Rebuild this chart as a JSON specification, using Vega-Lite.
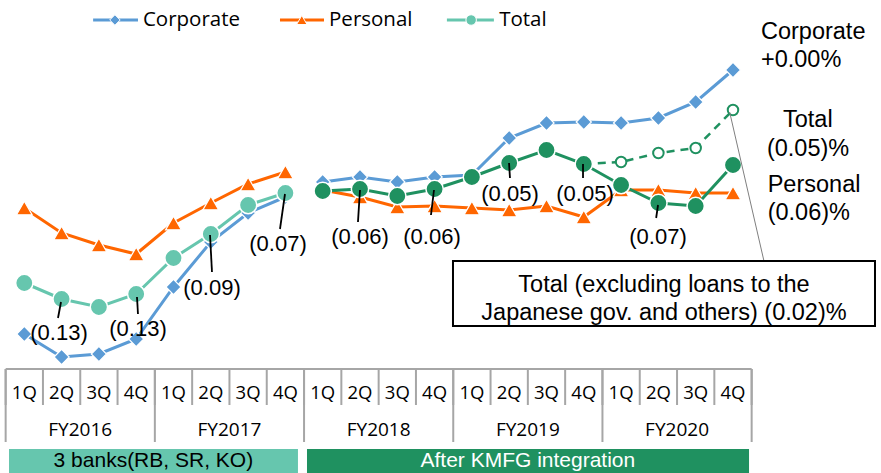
{
  "$schema": "https://vega.github.io/schema/vega-lite/v6.json",
  "width": 881,
  "height": 473,
  "autosize": {"type": "fit", "contains": "padding"},
  "padding": 0,
  "background": "white",
  "config": {"view": {"stroke": null}},
  "datasets": {
    "lines": [
      {"s": "Corporate", "seg": "A", "i": 0, "v": 0.86},
      {"s": "Corporate", "seg": "A", "i": 1, "v": 0.63},
      {"s": "Corporate", "seg": "A", "i": 2, "v": 0.66},
      {"s": "Corporate", "seg": "A", "i": 3, "v": 0.81},
      {"s": "Corporate", "seg": "A", "i": 4, "v": 1.33},
      {"s": "Corporate", "seg": "A", "i": 5, "v": 1.78},
      {"s": "Corporate", "seg": "A", "i": 6, "v": 2.07},
      {"s": "Corporate", "seg": "A", "i": 7, "v": 2.23},
      {"s": "Corporate", "seg": "B", "i": 8, "v": 2.38},
      {"s": "Corporate", "seg": "B", "i": 9, "v": 2.43},
      {"s": "Corporate", "seg": "B", "i": 10, "v": 2.38},
      {"s": "Corporate", "seg": "B", "i": 11, "v": 2.43},
      {"s": "Corporate", "seg": "B", "i": 12, "v": 2.45},
      {"s": "Corporate", "seg": "B", "i": 13, "v": 2.82},
      {"s": "Corporate", "seg": "B", "i": 14, "v": 2.97},
      {"s": "Corporate", "seg": "B", "i": 15, "v": 2.98},
      {"s": "Corporate", "seg": "B", "i": 16, "v": 2.97},
      {"s": "Corporate", "seg": "B", "i": 17, "v": 3.02},
      {"s": "Corporate", "seg": "B", "i": 18, "v": 3.18},
      {"s": "Corporate", "seg": "B", "i": 19, "v": 3.5},
      {"s": "Personal", "seg": "A", "i": 0, "v": 2.12},
      {"s": "Personal", "seg": "A", "i": 1, "v": 1.87},
      {"s": "Personal", "seg": "A", "i": 2, "v": 1.75},
      {"s": "Personal", "seg": "A", "i": 3, "v": 1.66},
      {"s": "Personal", "seg": "A", "i": 4, "v": 1.97},
      {"s": "Personal", "seg": "A", "i": 5, "v": 2.17},
      {"s": "Personal", "seg": "A", "i": 6, "v": 2.36},
      {"s": "Personal", "seg": "A", "i": 7, "v": 2.48},
      {"s": "Personal", "seg": "B", "i": 8, "v": 2.3},
      {"s": "Personal", "seg": "B", "i": 9, "v": 2.23},
      {"s": "Personal", "seg": "B", "i": 10, "v": 2.13},
      {"s": "Personal", "seg": "B", "i": 11, "v": 2.14},
      {"s": "Personal", "seg": "B", "i": 12, "v": 2.12},
      {"s": "Personal", "seg": "B", "i": 13, "v": 2.1},
      {"s": "Personal", "seg": "B", "i": 14, "v": 2.14},
      {"s": "Personal", "seg": "B", "i": 15, "v": 2.03},
      {"s": "Personal", "seg": "B", "i": 16, "v": 2.3},
      {"s": "Personal", "seg": "B", "i": 17, "v": 2.3},
      {"s": "Personal", "seg": "B", "i": 18, "v": 2.27},
      {"s": "Personal", "seg": "B", "i": 19, "v": 2.27},
      {"s": "Total", "seg": "A", "i": 0, "v": 1.37},
      {"s": "Total", "seg": "A", "i": 1, "v": 1.21},
      {"s": "Total", "seg": "A", "i": 2, "v": 1.13},
      {"s": "Total", "seg": "A", "i": 3, "v": 1.26},
      {"s": "Total", "seg": "A", "i": 4, "v": 1.62},
      {"s": "Total", "seg": "A", "i": 5, "v": 1.86},
      {"s": "Total", "seg": "A", "i": 6, "v": 2.15},
      {"s": "Total", "seg": "A", "i": 7, "v": 2.27},
      {"s": "Total", "seg": "B", "i": 8, "v": 2.29},
      {"s": "Total", "seg": "B", "i": 9, "v": 2.31},
      {"s": "Total", "seg": "B", "i": 10, "v": 2.24},
      {"s": "Total", "seg": "B", "i": 11, "v": 2.31},
      {"s": "Total", "seg": "B", "i": 12, "v": 2.43},
      {"s": "Total", "seg": "B", "i": 13, "v": 2.57},
      {"s": "Total", "seg": "B", "i": 14, "v": 2.7},
      {"s": "Total", "seg": "B", "i": 15, "v": 2.56},
      {"s": "Total", "seg": "B", "i": 16, "v": 2.35},
      {"s": "Total", "seg": "B", "i": 17, "v": 2.17},
      {"s": "Total", "seg": "B", "i": 18, "v": 2.14},
      {"s": "Total", "seg": "B", "i": 19, "v": 2.55}
    ],
    "excl": [
      {"i": 15, "v": 2.56},
      {"i": 16, "v": 2.58},
      {"i": 17, "v": 2.67},
      {"i": 18, "v": 2.72},
      {"i": 19, "v": 3.1}
    ],
    "leaders": [
      {"i": 0.984, "v": 1.18, "i2": 0.903, "v2": 1.02},
      {"i": 3.021, "v": 1.23, "i2": 3.048, "v2": 1.06},
      {"i": 4.979, "v": 1.85, "i2": 5.032, "v2": 1.48},
      {"i": 6.989, "v": 2.26, "i2": 6.855, "v2": 1.91},
      {"i": 9.0, "v": 2.3, "i2": 8.946, "v2": 1.98},
      {"i": 10.984, "v": 2.3, "i2": 10.903, "v2": 2.05},
      {"i": 12.995, "v": 2.57, "i2": 13.021, "v2": 2.42},
      {"i": 14.979, "v": 2.56, "i2": 14.979, "v2": 2.42},
      {"i": 16.99, "v": 2.15, "i2": 16.94, "v2": 2.02}
    ],
    "notes": [
      {"label": "(0.13)", "i": 0.93, "v": 0.87},
      {"label": "(0.13)", "i": 3.048, "v": 0.91},
      {"label": "(0.09)", "i": 5.032, "v": 1.32},
      {"label": "(0.07)", "i": 6.802, "v": 1.76},
      {"label": "(0.06)", "i": 9.0, "v": 1.83},
      {"label": "(0.06)", "i": 10.93, "v": 1.83},
      {"label": "(0.05)", "i": 13.021, "v": 2.26},
      {"label": "(0.05)", "i": 15.032, "v": 2.26},
      {"label": "(0.07)", "i": 16.99, "v": 1.83}
    ],
    "rlabels": [
      {"label": "Corporate", "i": 19.75, "v": 3.88},
      {"label": "+0.00%", "i": 19.75, "v": 3.6},
      {"label": "Total", "i": 20.34, "v": 3.0},
      {"label": "(0.05)%", "i": 19.91, "v": 2.71},
      {"label": "Personal", "i": 19.93, "v": 2.35},
      {"label": "(0.06)%", "i": 19.93, "v": 2.07}
    ],
    "boxLeader": [{"i": 18.91, "v": 3.08, "i2": 19.83, "v2": 1.59}],
    "box": [{"i": 11.493, "i2": 22.807, "v": 1.59, "v2": 0.94}],
    "boxText": [
      {"label": "Total (excluding loans to the", "i": 17.15, "v": 1.35},
      {"label": "Japanese gov. and others) (0.02)%", "i": 17.15, "v": 1.07}
    ],
    "tableTop": [{"i": -0.5, "i2": 19.5, "v": 0.51}],
    "qsep": [
      {"i": -0.5, "v": 0.51, "v2": 0.15}, {"i": 0.5, "v": 0.51, "v2": 0.15}, {"i": 1.5, "v": 0.51, "v2": 0.15},
      {"i": 2.5, "v": 0.51, "v2": 0.15}, {"i": 3.5, "v": 0.51, "v2": 0.15}, {"i": 4.5, "v": 0.51, "v2": 0.15},
      {"i": 5.5, "v": 0.51, "v2": 0.15}, {"i": 6.5, "v": 0.51, "v2": 0.15}, {"i": 7.5, "v": 0.51, "v2": 0.15},
      {"i": 8.5, "v": 0.51, "v2": 0.15}, {"i": 9.5, "v": 0.51, "v2": 0.15}, {"i": 10.5, "v": 0.51, "v2": 0.15},
      {"i": 11.5, "v": 0.51, "v2": 0.15}, {"i": 12.5, "v": 0.51, "v2": 0.15}, {"i": 13.5, "v": 0.51, "v2": 0.15},
      {"i": 14.5, "v": 0.51, "v2": 0.15}, {"i": 15.5, "v": 0.51, "v2": 0.15}, {"i": 16.5, "v": 0.51, "v2": 0.15},
      {"i": 17.5, "v": 0.51, "v2": 0.15}, {"i": 18.5, "v": 0.51, "v2": 0.15}, {"i": 19.5, "v": 0.51, "v2": 0.15}
    ],
    "fysep": [
      {"i": -0.5, "v": 0.51, "v2": -0.22}, {"i": 3.5, "v": 0.51, "v2": -0.22}, {"i": 7.5, "v": 0.51, "v2": -0.22},
      {"i": 11.5, "v": 0.51, "v2": -0.22}, {"i": 15.5, "v": 0.51, "v2": -0.22}, {"i": 19.5, "v": 0.51, "v2": -0.22}
    ],
    "quarters": [
      {"q": "1Q", "i": 0, "v": 0.27}, {"q": "2Q", "i": 1, "v": 0.27}, {"q": "3Q", "i": 2, "v": 0.27}, {"q": "4Q", "i": 3, "v": 0.27},
      {"q": "1Q", "i": 4, "v": 0.27}, {"q": "2Q", "i": 5, "v": 0.27}, {"q": "3Q", "i": 6, "v": 0.27}, {"q": "4Q", "i": 7, "v": 0.27},
      {"q": "1Q", "i": 8, "v": 0.27}, {"q": "2Q", "i": 9, "v": 0.27}, {"q": "3Q", "i": 10, "v": 0.27}, {"q": "4Q", "i": 11, "v": 0.27},
      {"q": "1Q", "i": 12, "v": 0.27}, {"q": "2Q", "i": 13, "v": 0.27}, {"q": "3Q", "i": 14, "v": 0.27}, {"q": "4Q", "i": 15, "v": 0.27},
      {"q": "1Q", "i": 16, "v": 0.27}, {"q": "2Q", "i": 17, "v": 0.27}, {"q": "3Q", "i": 18, "v": 0.27}, {"q": "4Q", "i": 19, "v": 0.27}
    ],
    "fys": [
      {"fy": "FY2016", "i": 1.5, "v": -0.1}, {"fy": "FY2017", "i": 5.5, "v": -0.1}, {"fy": "FY2018", "i": 9.5, "v": -0.1},
      {"fy": "FY2019", "i": 13.5, "v": -0.1}, {"fy": "FY2020", "i": 17.5, "v": -0.1}
    ],
    "bands": [
      {"label": "3 banks(RB, SR, KO)", "i": -0.41, "i2": 7.337, "v": -0.29, "v2": -0.529},
      {"label": "After KMFG integration", "i": 7.579, "i2": 19.43, "v": -0.29, "v2": -0.529}
    ],
    "bandText": [
      {"label": "3 banks(RB, SR, KO)", "i": 3.46, "v": -0.41},
      {"label": "After KMFG integration", "i": 13.5, "v": -0.41}
    ],
    "legendLines": [
      {"s": "Corporate", "i": 1.845, "i2": 3.048, "v": 4.0},
      {"s": "Personal", "i": 6.855, "i2": 8.035, "v": 4.0},
      {"s": "Total", "i": 11.33, "i2": 12.59, "v": 4.0}
    ],
    "legendPts": [
      {"s": "Corporate", "i": 2.43, "v": 4.0},
      {"s": "Personal", "i": 7.44, "v": 4.0},
      {"s": "Total", "i": 11.98, "v": 4.0}
    ],
    "legendText": [
      {"label": "Corporate", "i": 3.18, "v": 4.0},
      {"label": "Personal", "i": 8.17, "v": 4.0},
      {"label": "Total", "i": 12.73, "v": 4.0}
    ]
  },
  "encoding": {
    "x": {"field": "i", "type": "quantitative", "scale": {"domain": [-0.6515, 22.968], "nice": false, "zero": false}, "axis": null},
    "y": {"field": "v", "type": "quantitative", "scale": {"domain": [-0.53, 4.2], "nice": false, "zero": false}, "axis": null}
  },
  "layer": [
    {
      "data": {"name": "lines"},
      "transform": [{"filter": "datum.s === 'Personal'"}],
      "mark": {"type": "line", "color": "#FF6600", "strokeWidth": 3},
      "encoding": {"detail": {"field": "seg"}}
    },
    {
      "data": {"name": "lines"},
      "transform": [{"filter": "datum.s === 'Personal'"}],
      "mark": {"type": "point", "shape": "triangle-up", "filled": true, "fill": "#FF6600", "stroke": "white", "strokeWidth": 1.2, "size": 250, "opacity": 1}
    },
    {
      "data": {"name": "lines"},
      "transform": [{"filter": "datum.s === 'Corporate'"}],
      "mark": {"type": "line", "color": "#5B9BD5", "strokeWidth": 3},
      "encoding": {"detail": {"field": "seg"}}
    },
    {
      "data": {"name": "lines"},
      "transform": [{"filter": "datum.s === 'Corporate'"}],
      "mark": {"type": "point", "shape": "diamond", "filled": true, "fill": "#5B9BD5", "stroke": "white", "strokeWidth": 1.2, "size": 230, "opacity": 1}
    },
    {
      "data": {"name": "lines"},
      "transform": [{"filter": "datum.s === 'Total' && datum.seg === 'A'"}],
      "mark": {"type": "line", "color": "#66C6AE", "strokeWidth": 3}
    },
    {
      "data": {"name": "lines"},
      "transform": [{"filter": "datum.s === 'Total' && datum.seg === 'A'"}],
      "mark": {"type": "point", "shape": "circle", "filled": true, "fill": "#66C6AE", "stroke": "white", "strokeWidth": 1.5, "size": 300, "opacity": 1}
    },
    {
      "data": {"name": "lines"},
      "transform": [{"filter": "datum.s === 'Total' && datum.seg === 'B'"}],
      "mark": {"type": "line", "color": "#1F9160", "strokeWidth": 3}
    },
    {
      "data": {"name": "excl"},
      "mark": {"type": "line", "color": "#1F9160", "strokeWidth": 2.5, "strokeDash": [8, 6]}
    },
    {
      "data": {"name": "lines"},
      "transform": [{"filter": "datum.s === 'Total' && datum.seg === 'B'"}],
      "mark": {"type": "point", "shape": "circle", "filled": true, "fill": "#1F9160", "stroke": "white", "strokeWidth": 1.5, "size": 300, "opacity": 1}
    },
    {
      "data": {"name": "excl"},
      "transform": [{"filter": "datum.i > 15"}],
      "mark": {"type": "point", "shape": "circle", "filled": false, "fill": "white", "fillOpacity": 1, "stroke": "#1F9160", "strokeWidth": 2, "size": 110, "opacity": 1}
    },
    {
      "data": {"name": "leaders"},
      "mark": {"type": "rule", "color": "black", "strokeWidth": 1.8},
      "encoding": {"x2": {"field": "i2"}, "y2": {"field": "v2"}}
    },
    {
      "data": {"name": "notes"},
      "mark": {"type": "text", "font": "Liberation Sans", "fontSize": 22, "color": "black", "align": "center", "baseline": "middle"},
      "encoding": {"text": {"field": "label"}}
    },
    {
      "data": {"name": "rlabels"},
      "mark": {"type": "text", "font": "Liberation Sans", "fontSize": 23.5, "color": "black", "align": "left", "baseline": "middle"},
      "encoding": {"text": {"field": "label"}}
    },
    {
      "data": {"name": "boxLeader"},
      "mark": {"type": "rule", "color": "#7f7f7f", "strokeWidth": 1},
      "encoding": {"x2": {"field": "i2"}, "y2": {"field": "v2"}}
    },
    {
      "data": {"name": "box"},
      "mark": {"type": "rect", "fill": "white", "stroke": "black", "strokeWidth": 2},
      "encoding": {"x2": {"field": "i2"}, "y2": {"field": "v2"}}
    },
    {
      "data": {"name": "boxText"},
      "mark": {"type": "text", "font": "Liberation Sans", "fontSize": 23.5, "color": "black", "align": "center", "baseline": "middle"},
      "encoding": {"text": {"field": "label"}}
    },
    {
      "data": {"name": "tableTop"},
      "mark": {"type": "rule", "color": "#A6A6A6", "strokeWidth": 2},
      "encoding": {"x2": {"field": "i2"}}
    },
    {
      "data": {"name": "qsep"},
      "mark": {"type": "rule", "color": "#A6A6A6", "strokeWidth": 2},
      "encoding": {"y2": {"field": "v2"}}
    },
    {
      "data": {"name": "fysep"},
      "mark": {"type": "rule", "color": "#A6A6A6", "strokeWidth": 2},
      "encoding": {"y2": {"field": "v2"}}
    },
    {
      "data": {"name": "quarters"},
      "mark": {"type": "text", "font": "Open Sans", "fontSize": 18.5, "color": "black", "align": "center", "baseline": "middle"},
      "encoding": {"text": {"field": "q"}}
    },
    {
      "data": {"name": "fys"},
      "mark": {"type": "text", "font": "Open Sans", "fontSize": 19, "color": "black", "align": "center", "baseline": "middle"},
      "encoding": {"text": {"field": "fy"}}
    },
    {
      "data": {"name": "bands"},
      "mark": {"type": "rect"},
      "encoding": {
        "x2": {"field": "i2"},
        "y2": {"field": "v2"},
        "color": {"field": "label", "type": "nominal", "scale": {"domain": ["3 banks(RB, SR, KO)", "After KMFG integration"], "range": ["#66C6AE", "#1F9160"]}, "legend": null}
      }
    },
    {
      "data": {"name": "bandText"},
      "mark": {"type": "text", "font": "Liberation Sans", "fontSize": 21, "align": "center", "baseline": "middle"},
      "encoding": {
        "text": {"field": "label"},
        "fill": {"condition": {"test": "datum.label === 'After KMFG integration'", "value": "white"}, "value": "black"}
      }
    },
    {
      "data": {"name": "legendLines"},
      "mark": {"type": "rule", "strokeWidth": 3},
      "encoding": {
        "x2": {"field": "i2"},
        "stroke": {"condition": [{"test": "datum.s === 'Corporate'", "value": "#5B9BD5"}, {"test": "datum.s === 'Personal'", "value": "#FF6600"}], "value": "#66C6AE"}
      }
    },
    {
      "data": {"name": "legendPts"},
      "mark": {"type": "point", "filled": true, "size": 110, "opacity": 1, "stroke": "white", "strokeWidth": 1},
      "encoding": {
        "fill": {"condition": [{"test": "datum.s === 'Corporate'", "value": "#5B9BD5"}, {"test": "datum.s === 'Personal'", "value": "#FF6600"}], "value": "#66C6AE"},
        "shape": {"condition": [{"test": "datum.s === 'Corporate'", "value": "diamond"}, {"test": "datum.s === 'Personal'", "value": "triangle-up"}], "value": "circle"}
      }
    },
    {
      "data": {"name": "legendText"},
      "mark": {"type": "text", "font": "Open Sans", "fontSize": 20.5, "color": "black", "align": "left", "baseline": "middle"},
      "encoding": {"text": {"field": "label"}}
    }
  ]
}
